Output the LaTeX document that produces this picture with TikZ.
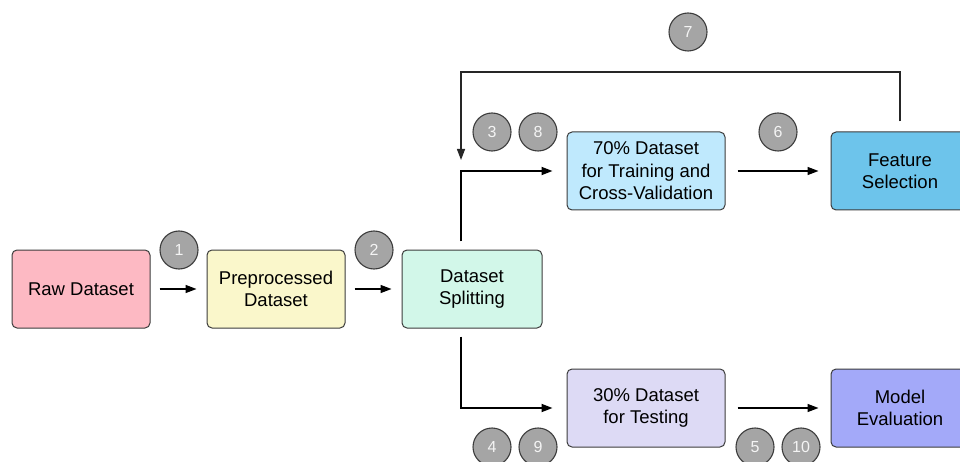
\documentclass[tikz,border=0pt]{standalone}
\usepackage{fontspec}
\setmainfont{Liberation Sans}
\usetikzlibrary{arrows.meta}

\definecolor{rawfill}{HTML}{FDB9C3}
\definecolor{prefill}{HTML}{FAF7CB}
\definecolor{splitfill}{HTML}{D2F7E9}
\definecolor{trainfill}{HTML}{BFE9FD}
\definecolor{featfill}{HTML}{6DC4EB}
\definecolor{testfill}{HTML}{DDDAF5}
\definecolor{evalfill}{HTML}{A3A9F9}
\definecolor{edge}{HTML}{3C3C3C}
\definecolor{badge}{HTML}{A5A5A5}
\definecolor{badgetext}{HTML}{F4F4F4}

\tikzset{
  stagebox/.style={draw=edge, line width=1pt, rounded corners=5pt,
    minimum height=78pt, align=center, inner sep=2pt,
    font=\fontsize{18.5}{22.5}\selectfont},
  badgenode/.style={circle, draw=edge, line width=1.1pt, fill=badge,
    minimum size=38pt, inner sep=0pt, text=badgetext,
    font=\fontsize{16}{16}\selectfont},
  flow/.style={line width=1.4pt, -{Triangle[length=11pt,width=8pt]}},
  branch/.style={line width=1.8pt, -{Triangle[length=11pt,width=8pt]}},
  feedback/.style={line width=1.3pt, draw=black!85, -{Triangle[length=11pt,width=8pt]}},
}

\begin{document}
\begin{tikzpicture}[x=1pt, y=-1pt]
\useasboundingbox (0,0) rectangle (960,462);
\clip (0,0) rectangle (960,462);

% processing stages
\node[stagebox, fill=rawfill,   minimum width=138pt] (raw)   at (81,289)  {Raw Dataset};
\node[stagebox, fill=prefill,   minimum width=138pt] (pre)   at (276,289) {Preprocessed\\Dataset};
\node[stagebox, fill=splitfill, minimum width=140pt] (split) at (472,289) {Dataset\\Splitting};
\node[stagebox, fill=trainfill, minimum width=158pt] (train) at (646,171) {70\% Dataset\\for Training and\\Cross-Validation};
\node[stagebox, fill=featfill,  minimum width=138pt] (feat)  at (900,171) {Feature\\Selection};
\node[stagebox, fill=testfill,  minimum width=158pt] (test)  at (646,408) {30\% Dataset\\for Testing};
\node[stagebox, fill=evalfill,  minimum width=138pt] (eval)  at (900,408) {Model\\Evaluation};

% routing points
\coordinate (upjoin)  at (461,171);
\coordinate (lowjoin) at (461,408);
\coordinate (fbcorner) at (461,72);
\coordinate (fbend)   at (461,160);

% connectors
\draw[flow, shorten <=9pt, shorten >=10pt] (raw.east) -- (pre.west);
\draw[flow, shorten <=9pt, shorten >=10pt] (pre.east) -- (split.west);
\draw[branch, shorten <=8pt, shorten >=14pt] (split.north -| upjoin) -- (upjoin) -- (train.west);
\draw[branch, shorten <=8pt, shorten >=14pt] (split.south -| lowjoin) -- (lowjoin) -- (test.west);
\draw[flow, shorten <=12pt, shorten >=12pt] (train.east) -- (feat.west);
\draw[flow, shorten <=12pt, shorten >=12pt] (test.east) -- (eval.west);
\draw[feedback, shorten <=10pt] (feat.north) -- (feat.north |- fbcorner) -- (fbcorner) -- (fbend);

% step badges
\node[badgenode] (s1)  at (179,250) {1};
\node[badgenode] (s2)  at (374,250) {2};
\node[badgenode] (s3)  at (492,132) {3};
\node[badgenode] (s8)  at (538,132) {8};
\node[badgenode] (s6)  at (778,132) {6};
\node[badgenode] (s7)  at (688,32)  {7};
\node[badgenode] (s4)  at (492,447) {4};
\node[badgenode] (s9)  at (538,447) {9};
\node[badgenode] (s5)  at (755,447) {5};
\node[badgenode] (s10) at (801,447) {10};
\end{tikzpicture}
\end{document}
